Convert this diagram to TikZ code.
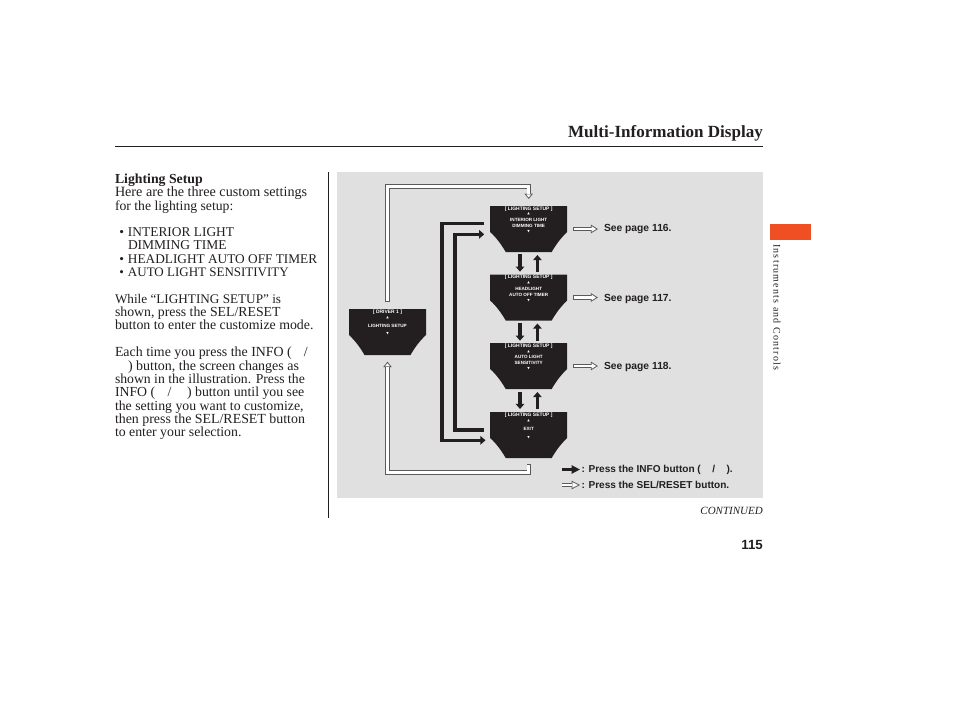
\documentclass[tikz,border=0pt]{standalone}
\usepackage{fontspec}
\setmainfont{Liberation Serif}
\newfontfamily\hv{Liberation Sans}
\newfontfamily\sym{DejaVu Sans}
\newfontfamily\spaced[LetterSpace=12]{Liberation Serif}
\usetikzlibrary{arrows.meta,calc}
\definecolor{ink}{HTML}{231F20}
\definecolor{panel}{HTML}{E0E0E0}
\definecolor{tab}{HTML}{F04E23}
\definecolor{edge}{HTML}{5A5A5A}
\newcommand{\fs}[1]{\fontsize{#1}{14}\selectfont}
\tikzset{
 bodyline/.style={anchor=base west,inner sep=0,outer sep=0,text=ink},
 seepage/.style={anchor=west,inner sep=0,outer sep=0,text=ink,font=\hv\bfseries\fontsize{10.3}{11}\selectfont},
 legendtext/.style={anchor=west,inner sep=0,outer sep=0,text=ink,font=\hv\bfseries\fontsize{10.05}{11}\selectfont},
 scrtext/.style={inner sep=0,outer sep=0,text=white,font=\hv\bfseries\fontsize{4.6}{5}\selectfont},
 scrhead/.style={inner sep=0,outer sep=0,text=white,font=\hv\bfseries\fontsize{4.95}{5}\selectfont},
 scrtri/.style={inner sep=0,outer sep=0,text=white,font=\sym\fontsize{3.2}{4}\selectfont},
 screenbox/.style={minimum width=77pt,minimum height=46pt,inner sep=0,outer sep=0,
  path picture={\fill[ink] ([shift={(-38.5pt,23pt)}]path picture bounding box.center)
    -- ([shift={(-38.5pt,-3pt)}]path picture bounding box.center)
    .. controls ([shift={(-32pt,-9pt)}]path picture bounding box.center) and ([shift={(-27pt,-16pt)}]path picture bounding box.center) .. ([shift={(-23pt,-23pt)}]path picture bounding box.center)
    -- ([shift={(23pt,-23pt)}]path picture bounding box.center)
    .. controls ([shift={(27pt,-16pt)}]path picture bounding box.center) and ([shift={(32pt,-9pt)}]path picture bounding box.center) .. ([shift={(38.5pt,-3pt)}]path picture bounding box.center)
    -- ([shift={(38.5pt,23pt)}]path picture bounding box.center) -- cycle;}},
 blackarrow/.style={draw=ink,line width=3.6pt,miter limit=10,-{Triangle[length=5.2pt,width=8.6pt]}},
 blacklegend/.style={draw=ink,line width=3.6pt,-{Triangle[length=8.5pt,width=8.2pt]}},
 wouter/.style={draw=edge,line width=4.4pt},
 winner/.style={draw=white,line width=2.8pt},
}
% white outlined arrow: head length, then the path
\newcommand{\whitepath}[2]{%
 \draw[wouter,-{Triangle[length=#1,width=8.6pt,line width=.8pt,fill=white]}] #2;
 \draw[winner,shorten <=.8pt,shorten >=#1-.6pt] #2;}
\begin{document}
\begin{tikzpicture}[x=1pt,y=-1pt]
\useasboundingbox[fill=white] (0,0) rectangle (954,710);
% panel and rules
\fill[panel] (337,172) rectangle (763,498);
\draw[ink,line width=.9pt] (115,146.5) -- (763,146.5);
\draw[ink,line width=.9pt] (328.5,172) -- (328.5,518);
\fill[tab] (770,224) rectangle (811,240);
% header
\node[anchor=base east,inner sep=0,text=ink,font=\bfseries\fontsize{17.05}{18}\selectfont] (title) at (763,137) {Multi-Information Display};
\node[rotate=-90,anchor=west,inner sep=0,text=ink,font=\spaced\fontsize{10}{11}\selectfont] (side) at (777,244) {Instruments and Controls};
\node[anchor=base east,inner sep=0,text=ink,font=\itshape\fontsize{11}{12}\selectfont] (cont) at (763,514) {CONTINUED};
\node[anchor=base east,inner sep=0,text=ink,font=\hv\bfseries\fontsize{13.3}{14}\selectfont] (pageno) at (763,549) {115};
% body text
\node[bodyline,font=\bfseries\fs{13.8}] (t1) at (115,183) {Lighting Setup};
\node[bodyline,font=\fs{14.15}] (t2) at (115,196) {Here are the three custom settings};
\node[bodyline,font=\fs{13.7}] (t3) at (115,210) {for the lighting setup:};
\node[bodyline,font=\fs{13.4}] (t4) at (119.3,236) {\makebox[8.7pt][l]{•}INTERIOR LIGHT};
\node[bodyline,font=\fs{13.5}] (t5) at (128,249) {DIMMING TIME};
\node[bodyline,font=\fs{13.3}] (t6) at (119.3,263) {\makebox[8.7pt][l]{•}HEADLIGHT AUTO OFF TIMER};
\node[bodyline,font=\fs{13.0}] (t7) at (119.3,276) {\makebox[8.7pt][l]{•}AUTO LIGHT SENSITIVITY};
\node[bodyline,font=\fs{13.2}] (t8) at (115,303) {While “LIGHTING SETUP” is};
\node[bodyline,font=\fs{13.8}] (t9) at (115,316) {shown, press the SEL/RESET};
\node[bodyline,font=\fs{13.85}] (t10) at (115,329) {button to enter the customize mode.};
\node[bodyline,font=\fs{13.9}] (t11) at (115,356) {Each time you press the INFO (\hspace{12pt}/};
\node[bodyline,font=\fs{14.0}] (t12) at (128,370) {) button, the screen changes as};
\node[bodyline,font=\fs{13.7}] (t13) at (115,383) {shown in the illustration. Press the};
\node[bodyline,font=\fs{13.8}] (t14) at (115,396) {INFO (\hspace{12.5pt}/\hspace{15.5pt}) button until you see};
\node[bodyline,font=\fs{13.8}] (t15) at (115,410) {the setting you want to customize,};
\node[bodyline,font=\fs{13.9}] (t16) at (115,423) {then press the SEL/RESET button};
\node[bodyline,font=\fs{13.8}] (t17) at (115,436) {to enter your selection.};
% screens
\node[screenbox] (d) at (387.5,332) {};
\node[screenbox] (s1) at (528.7,229) {};
\node[screenbox] (s2) at (528.7,297.5) {};
\node[screenbox] (s3) at (528.7,366) {};
\node[screenbox] (s4) at (528.7,435) {};
% screen texts
\node[scrhead] (dh) at (387.5,312) {[ DRIVER 1 ]};
\node[scrtri] (du) at (387.5,317.7) {▲};
\node[scrtext] (dt) at (387.5,325.7) {LIGHTING SETUP};
\node[scrtri] (dd) at (387.5,334) {▼};
\node[scrhead] (h1) at (528.7,208.8) {[ LIGHTING SETUP ]};
\node[scrtri] (u1) at (528.7,214) {▲};
\node[scrtext] (a1) at (528.7,219.7) {INTERIOR LIGHT};
\node[scrtext] (b1) at (528.7,225.7) {DIMMING TIME};
\node[scrtri] (d1) at (528.7,231.7) {▼};
\node[scrhead] (h2) at (528.7,277.3) {[ LIGHTING SETUP ]};
\node[scrtri] (u2) at (528.7,282.5) {▲};
\node[scrtext] (a2) at (528.7,288.5) {HEADLIGHT};
\node[scrtext] (b2) at (528.7,294.5) {AUTO OFF TIMER};
\node[scrtri] (d2) at (528.7,300.5) {▼};
\node[scrhead] (h3) at (528.7,346) {[ LIGHTING SETUP ]};
\node[scrtri] (u3) at (528.7,351.2) {▲};
\node[scrtext] (a3) at (528.7,357) {AUTO LIGHT};
\node[scrtext] (b3) at (528.7,363) {SENSITIVITY};
\node[scrtri] (d3) at (528.7,369) {▼};
\node[scrhead] (h4) at (528.7,415) {[ LIGHTING SETUP ]};
\node[scrtri] (u4) at (528.7,420.2) {▲};
\node[scrtext] (a4) at (528.7,429) {EXIT};
\node[scrtri] (d4) at (528.7,437.5) {▼};
% page references and legend
\node[seepage] (p1) at (604,229) {See page 116.};
\node[seepage] (p2) at (604,298.5) {See page 117.};
\node[seepage] (p3) at (604,367) {See page 118.};
\node[legendtext] (l1) at (581.5,469.5) {: Press the INFO button (\hspace{11.5pt}/\hspace{11.5pt}).};
\node[legendtext] (l2) at (581.5,485) {: Press the SEL/RESET button.};
% routing levels
\coordinate (wtop) at (0,186.3);
\coordinate (wbot) at (0,472.3);
\coordinate (bo) at (441.7,0);
\coordinate (bi) at (454.7,0);
% white connectors
\whitepath{5.5pt}{([yshift=7pt]d.north) -- (d.north |- wtop) -- (s1.north |- wtop) -- ([yshift=7pt]s1.north)}
\whitepath{5.5pt}{([yshift=-6.3pt]s4.south) -- (s4.south |- wbot) -- (d.south |- wbot) -- ([yshift=-6.7pt]d.south)}
\whitepath{7pt}{([xshift=5.7pt]s1.east) -- ([xshift=30.7pt]s1.east)}
\whitepath{7pt}{([xshift=5.7pt]s2.east) -- ([xshift=30.7pt]s2.east)}
\whitepath{7pt}{([xshift=5.7pt]s3.east) -- ([xshift=30.7pt]s3.east)}
\whitepath{8.5pt}{([xshift=-20pt]l2.west) -- ([xshift=-1.5pt]l2.west)}
% black connectors
\draw[blackarrow] ([shift={(-6pt,5.7pt)}]s1.west) -- ([yshift=5.7pt]bo |- s1.west) -- ([yshift=-5.3pt]bo |- s4.west) -- ([shift={(-4.7pt,-5.3pt)}]s4.west);
\draw[blackarrow] ([shift={(-6pt,5.3pt)}]s4.west) -- ([yshift=5.3pt]bi |- s4.west) -- ([yshift=-5.3pt]bi |- s1.west) -- ([shift={(-6pt,-5.3pt)}]s1.west);
\draw[blackarrow] ([shift={(-8.7pt,-2.3pt)}]s1.south) -- ([shift={(-8.7pt,2.8pt)}]s2.north);
\draw[blackarrow] ([shift={(8.7pt,2.5pt)}]s2.north) -- ([shift={(8.7pt,-3pt)}]s1.south);
\draw[blackarrow] ([shift={(-8.7pt,-2.5pt)}]s2.south) -- ([shift={(-8.7pt,2.3pt)}]s3.north);
\draw[blackarrow] ([shift={(8.7pt,2.3pt)}]s3.north) -- ([shift={(8.7pt,-3pt)}]s2.south);
\draw[blackarrow] ([shift={(-8.7pt,-2.7pt)}]s3.south) -- ([shift={(-8.7pt,3pt)}]s4.north);
\draw[blackarrow] ([shift={(8.7pt,3pt)}]s4.north) -- ([shift={(8.7pt,-3pt)}]s3.south);
\draw[blacklegend] ([xshift=-20pt]l1.west) -- ([xshift=-1.5pt]l1.west);
\end{tikzpicture}
\end{document}
